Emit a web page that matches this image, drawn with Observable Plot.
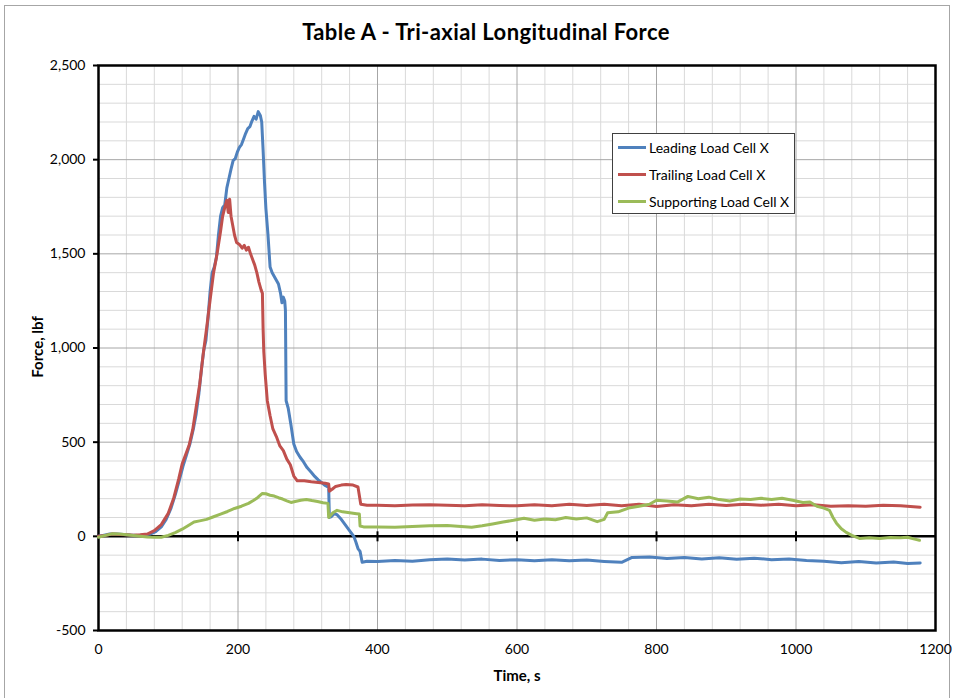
<!DOCTYPE html>
<html><head><meta charset="utf-8">
<script src="https://cdn.jsdelivr.net/npm/d3@7"></script>
<script src="https://cdn.jsdelivr.net/npm/@observablehq/plot@0.6"></script>
<style>
body{margin:0;background:#fff;font-family:Lato,"Open Sans",sans-serif;color:#000;}
#wrap{position:relative;width:956px;height:698px;overflow:hidden;}
#border{position:absolute;left:4px;top:5px;width:946px;height:700px;border:1px solid #a6a6a6;box-sizing:border-box;}
#title{position:absolute;top:21px;left:8px;width:956px;text-align:center;font-weight:700;font-size:22px;letter-spacing:0.4px;line-height:22px;}
#chart{position:absolute;left:0;top:0;}
#ylab{position:absolute;left:37px;top:347px;transform:translate(-50%,-50%) rotate(-90deg);font-weight:700;font-size:15px;white-space:nowrap;}
#xlab{position:absolute;left:517px;top:675px;transform:translate(-50%,-50%);font-weight:700;font-size:15px;white-space:nowrap;}
#legend{position:absolute;left:612px;top:133px;width:183px;height:81px;border:1px solid #404040;background:#fff;box-sizing:border-box;}
.item{position:absolute;left:5px;height:16px;display:flex;align-items:center;font-size:14px;white-space:nowrap;}
.sw{display:inline-block;width:28px;height:3px;margin-right:3px;}
</style></head>
<body>
<div id="wrap">
  <div id="border"></div>
  <div id="chart"></div>
  <div id="title">Table A - Tri-axial Longitudinal Force</div>
  <div id="ylab">Force, lbf</div>
  <div id="xlab">Time, s</div>
  <div id="legend"></div>
</div>
<script>
const seriesNames = ["Leading Load Cell X", "Trailing Load Cell X", "Supporting Load Cell X"];
const seriesColors = ["#4f81bd", "#c0504d", "#9bbb59"];

const xMajor = [0, 200, 400, 600, 800, 1000, 1200];
const xMinor = [40,80,120,160,240,280,320,360,440,480,520,560,640,680,720,760,840,880,920,960,1040,1080,1120,1160];
const yMajor = [-500, 0, 500, 1000, 1500, 2000, 2500];
const yMinor = [-400,-300,-200,-100,100,200,300,400,600,700,800,900,1100,1200,1300,1400,1600,1700,1800,1900,2100,2200,2300,2400];

// [time s, force lbf]
const leading = [[0,0],[8,6],[16,12],[26,13],[36,10],[46,7],[56,5],[66,7],[74,12],[82,25],[90,50],[97,90],[104,150],[110,220],[116,300],[121,370],[126,430],[131,490],[136,570],[140,650],[144,760],[148,900],[151,990],[154,1040],[157,1160],[160,1300],[163,1400],[166,1430],[169,1480],[172,1600],[175,1700],[178,1745],[181,1760],[184,1850],[187,1900],[190,1950],[193,1995],[196,2005],[199,2040],[202,2065],[205,2080],[208,2110],[211,2140],[214,2165],[217,2175],[220,2205],[223,2230],[226,2215],[229,2255],[232,2235],[234,2200],[236,2050],[238,1880],[240,1740],[243,1600],[246,1430],[249,1400],[252,1380],[255,1360],[258,1340],[261,1290],[263,1240],[265,1270],[267,1250],[268,1200],[269,720],[272,680],[276,590],[280,490],[284,450],[289,420],[294,395],[299,365],[305,340],[310,318],[315,300],[320,285],[325,270],[330,260],[331,100],[334,105],[338,120],[342,115],[347,95],[352,70],[357,45],[362,20],[366,0],[369,-30],[372,-65],[375,-80],[378,-138],[385,-132],[400,-133],[425,-128],[450,-132],[475,-124],[500,-120],[525,-126],[550,-121],[575,-128],[600,-124],[625,-130],[650,-124],[675,-130],[700,-126],[725,-133],[750,-138],[765,-112],[790,-110],[815,-118],[840,-112],[865,-120],[890,-114],[915,-122],[940,-116],[965,-124],[990,-120],[1015,-128],[1040,-132],[1065,-140],[1090,-134],[1115,-142],[1140,-136],[1160,-144],[1178,-141]];

const trailing = [[0,0],[10,5],[20,12],[30,10],[40,8],[50,6],[60,8],[70,12],[80,30],[90,62],[100,122],[108,205],[115,305],[120,385],[125,435],[130,485],[135,565],[140,685],[145,805],[150,965],[155,1105],[160,1255],[165,1400],[170,1500],[175,1620],[178,1700],[181,1745],[184,1785],[186,1720],[188,1790],[190,1700],[192,1660],[195,1600],[198,1560],[202,1550],[206,1530],[209,1545],[212,1520],[215,1535],[218,1500],[221,1470],[224,1440],[227,1400],[230,1350],[233,1310],[235,1290],[236,1100],[237,980],[239,860],[242,720],[246,640],[250,570],[255,530],[260,480],[265,455],[270,410],[275,380],[280,320],[285,295],[295,295],[305,290],[315,286],[325,282],[330,278],[331,240],[335,250],[340,265],[348,272],[355,275],[365,272],[372,262],[376,170],[385,165],[400,165],[425,163],[450,166],[475,168],[500,165],[525,163],[550,168],[575,164],[600,162],[625,168],[650,163],[675,170],[700,164],[725,170],[750,163],[775,170],[800,158],[825,168],[850,162],[875,170],[900,164],[925,170],[950,165],[975,170],[1000,162],[1025,168],[1050,160],[1075,163],[1100,160],[1125,165],[1150,162],[1178,155]];

const supporting = [[0,-5],[10,5],[20,14],[30,12],[40,8],[50,4],[60,0],[70,-4],[80,-5],[90,-5],[100,5],[110,20],[120,38],[130,60],[137,76],[145,82],[155,90],[165,104],[175,118],[185,132],[195,148],[205,160],[215,175],[222,190],[228,205],[235,228],[240,226],[246,218],[252,214],[258,205],[264,198],[270,188],[276,180],[282,185],[290,192],[298,196],[306,190],[314,185],[322,178],[329,175],[330,100],[336,125],[342,138],[350,130],[360,125],[370,120],[374,118],[375,55],[380,50],[400,50],[425,48],[450,52],[475,56],[500,58],[520,52],[535,48],[550,56],[565,66],[580,76],[595,85],[610,96],[625,85],[640,92],[655,88],[670,100],[685,92],[700,98],[715,78],[725,90],[730,125],[745,130],[760,150],[775,160],[790,170],[800,192],[815,188],[830,182],[845,212],[860,200],[875,208],[890,195],[905,188],[920,198],[935,195],[950,202],[965,196],[980,202],[995,192],[1010,180],[1020,182],[1030,160],[1040,150],[1048,138],[1053,100],[1058,70],[1065,40],[1072,21],[1080,5],[1091,-11],[1105,-8],[1120,-12],[1135,-6],[1150,-8],[1160,-5],[1170,-15],[1177,-21]];

const series = [leading, trailing, supporting];
const rows = series.flatMap((s, i) => s.map(([t, f]) => ({t, f, name: seriesNames[i]})));

const fmt = d => d3.format(",")(d).replace("\u2212", "-");
const tickSymbol = {draw(ctx) { ctx.moveTo(0, -5); ctx.lineTo(0, 5); }};

const plot = Plot.plot({
  width: 956, height: 698,
  marginLeft: 98, marginRight: 21, marginTop: 65, marginBottom: 68,
  x: {domain: [0, 1200], label: null},
  y: {domain: [-500, 2500], label: null},
  color: {domain: seriesNames, range: seriesColors},
  style: {fontFamily: "Lato, 'Open Sans', sans-serif", fontSize: "14px", color: "#000", background: "transparent"},
  marks: [
    Plot.gridX(xMinor, {stroke: "#d9d9d9", strokeOpacity: 1}),
    Plot.gridY(yMinor, {stroke: "#d9d9d9", strokeOpacity: 1}),
    Plot.gridX(xMajor, {stroke: "#a6a6a6", strokeOpacity: 1}),
    Plot.gridY(yMajor, {stroke: "#a6a6a6", strokeOpacity: 1}),
    Plot.frame({stroke: "#000", strokeWidth: 2.5}),
    Plot.ruleY([0], {stroke: "#000", strokeWidth: 2.5}),
    Plot.dot(xMajor.slice(1, -1), {x: d => d, y: 0, symbol: tickSymbol, fill: "none", stroke: "#000", strokeWidth: 2}),
    Plot.axisY(yMajor, {tickSize: 5, tickPadding: 8, tickFormat: fmt, stroke: "#000", strokeWidth: 2, label: null, fontSize: 14}),
    Plot.axisX(xMajor, {tickSize: 0, tickPadding: 14, tickFormat: d => String(d), label: null, fontSize: 14}),
    Plot.line(rows, {x: "t", y: "f", z: "name", stroke: "name", strokeWidth: 3, strokeLinejoin: "round", strokeLinecap: "round"})
  ]
});
document.getElementById("chart").appendChild(plot);

const legend = document.getElementById("legend");
seriesNames.forEach((n, i) => {
  const it = document.createElement("div");
  it.className = "item";
  it.style.top = (5 + i * 27) + "px";
  it.innerHTML = `<span class="sw" style="background:${seriesColors[i]}"></span><span>${n}</span>`;
  legend.appendChild(it);
});
</script>
</body></html>
